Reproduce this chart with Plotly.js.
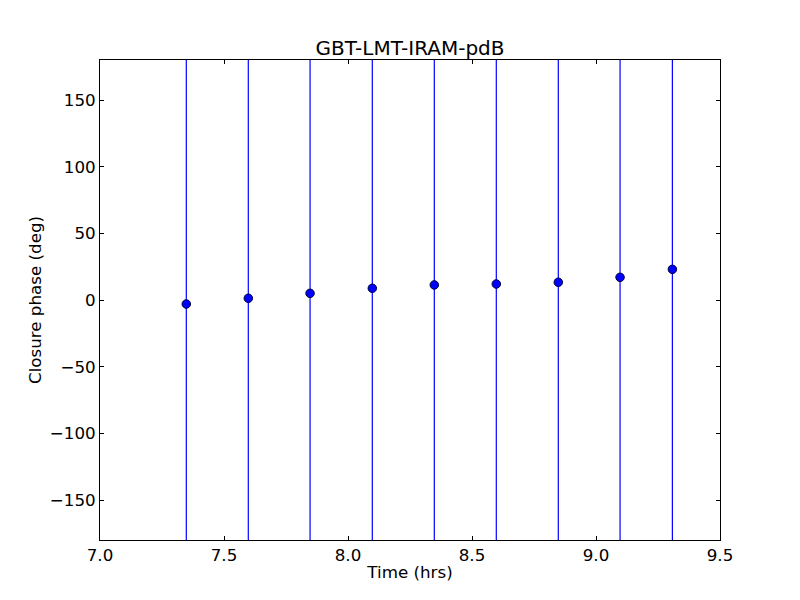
<!DOCTYPE html>
<html>
<head>
<meta charset="utf-8">
<script src="https://cdn.plot.ly/plotly-3.0.1.min.js"></script>
<style>html,body{margin:0;padding:0;background:#fff;}#chart{width:800px;height:600px;}</style>
</head>
<body>
<div id="chart"></div>
<script>
const timeHrs = [7.348, 7.598, 7.847, 8.098, 8.348, 8.598, 8.848, 9.097, 9.308];
const closurePhase = [-3.0, 1.3, 5.0, 8.8, 11.3, 12.0, 13.3, 17.0, 23.0];
const phaseErr = [400, 400, 400, 400, 400, 400, 400, 400, 400];
const xTicks = [7.0, 7.5, 8.0, 8.5, 9.0, 9.5];
const xTickText = ["7.0", "7.5", "8.0", "8.5", "9.0", "9.5"];
const yTicks = [-150, -100, -50, 0, 50, 100, 150];

const font = {family: "DejaVu Sans", size: 16.7, color: "#000"};

const trace = {
  x: timeHrs,
  y: closurePhase,
  type: "scatter",
  mode: "markers",
  marker: {color: "#0000ff", size: 8.5, line: {color: "#000033", width: 1}},
  error_y: {type: "data", array: phaseErr, symmetric: true, color: "#0000ff", thickness: 1.2, width: 0},
  showlegend: false,
  cliponaxis: true
};

const axisCommon = {
  showline: true, linecolor: "#000", linewidth: 1, mirror: "allticks",
  ticks: "inside", ticklen: 4, tickwidth: 1, tickcolor: "#000",
  showgrid: false, zeroline: false, tickfont: font
};

const layout = {
  width: 800, height: 600,
  paper_bgcolor: "#fff", plot_bgcolor: "#fff",
  margin: {l: 100, r: 80, t: 60, b: 60, pad: 0},
  title: {text: "GBT-LMT-IRAM-pdB", font: {family: "DejaVu Sans", size: 20, color: "#000"},
          x: 0.5, xref: "paper", y: 1, yref: "paper", yanchor: "bottom", pad: {b: 5}},
  xaxis: Object.assign({}, axisCommon, {
    range: [7.0, 9.5], tickmode: "array", tickvals: xTicks, ticktext: xTickText,
    title: {text: "Time (hrs)", font: font, standoff: 2}
  }),
  yaxis: Object.assign({}, axisCommon, {
    range: [-180, 180], tickmode: "array", tickvals: yTicks,
    title: {text: "Closure phase (deg)", font: font, standoff: 3}
  })
};

Plotly.newPlot("chart", [trace], layout, {displayModeBar: false, staticPlot: true});
</script>
</body>
</html>
